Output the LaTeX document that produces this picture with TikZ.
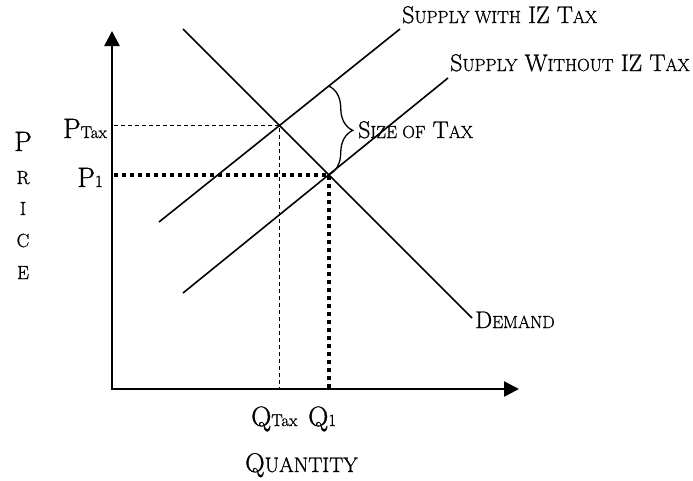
\documentclass[tikz,border=0pt]{standalone}
\usepackage{fontspec}
\setmainfont{Latin Modern Roman}[FakeBold=1.0]
\usetikzlibrary{decorations.pathreplacing,arrows.meta,calc}
\newcommand\lsc[1]{{\fontsize{17.5}{17.5}\selectfont #1}}
\newcommand\subt[1]{{\fontsize{17}{17}\selectfont #1}}
\begin{document}
\begin{tikzpicture}[x=1pt,y=-1pt,
  lbl/.style={font=\fontsize{24}{24}\selectfont, inner sep=0pt, anchor=base west},
  biglbl/.style={font=\fontsize{28}{28}\selectfont, inner sep=0pt},
  smlbl/.style={font=\fontsize{19}{19}\selectfont, inner sep=0pt, anchor=base},
  curve/.style={line width=1.6pt},
  axisline/.style={line width=2.6pt, line join=miter,
     {Triangle[length=15pt,width=15pt]}-{Triangle[length=15pt,width=15pt]}},
  thindash/.style={line width=0.9pt, dash pattern=on 4pt off 3pt},
  thickdot/.style={line width=4.2pt, dash pattern=on 4pt off 4pt},
  bracestyle/.style={line width=1.3pt, decorate, decoration={brace, amplitude=24pt}}
]
\useasboundingbox (0,0) rectangle (693,480);
\coordinate (O) at (112,389);
\coordinate (Ytop) at (112,31);
\coordinate (Xend) at (519,389);
% curves
\coordinate (D1) at (183,29);
\coordinate (D2) at (472,318);
\coordinate (T1) at (159,222);
\coordinate (T2) at (400,29);
\coordinate (S1) at (183,293);
\coordinate (S2) at (448,78);
\coordinate (Etax) at (intersection of D1--D2 and T1--T2);
\coordinate (E1) at (intersection of D1--D2 and S1--S2);
\coordinate (Eup) at ($(E1)+(0,-200)$);
\coordinate (Btop) at (intersection of T1--T2 and E1--Eup);
% guide lines
\draw[thindash] ([xshift=2pt]O |- Etax) -- (Etax) -- (Etax |- O);
\draw[thickdot] ([xshift=2pt]O |- E1) -- (E1) -- (E1 |- O);
% axes
\draw[axisline] (Ytop) -- (O) -- (Xend);
% supply and demand
\draw[curve] (D1) -- (D2);
\draw[curve] (T1) -- (T2);
\draw[curve] (S1) -- (S2);
\draw[bracestyle] (Btop) -- (E1);
% labels
\node[lbl] (lst) at (402,23) {S\lsc{UPPLY WITH} IZ T\lsc{AX}};
\node[lbl] (lsw) at (450,71) {S\lsc{UPPLY} W\lsc{ITHOUT} IZ T\lsc{AX}};
\node[lbl] (lsize) at (358,138) {S\lsc{IZE OF} T\lsc{AX}};
\node[lbl] (ldem) at (475,328) {D\lsc{EMAND}};
\node[lbl, font=\fontsize{27}{27}\selectfont] (lqty) at (245,472) {Q{\fontsize{21}{21}\selectfont UANTITY}};
\node[biglbl, anchor=base east] (lpt) at (107,138) {P\subt{Tax}};
\node[biglbl, anchor=base east] (lp1) at (103,187) {P\subt{1}};
\node[biglbl, anchor=base west] (lqt) at (251,426) {Q\subt{Tax}};
\node[biglbl, anchor=base west] (lq1) at (308,426) {Q\subt{1}};
\node[biglbl, anchor=base] (pr1) at (23,151) {P};
\node[smlbl] (pr2) at (23,184) {R};
\node[smlbl] (pr3) at (23,215) {I};
\node[smlbl] (pr4) at (23,247) {C};
\node[smlbl] (pr5) at (23,279) {E};
\end{tikzpicture}
\end{document}
